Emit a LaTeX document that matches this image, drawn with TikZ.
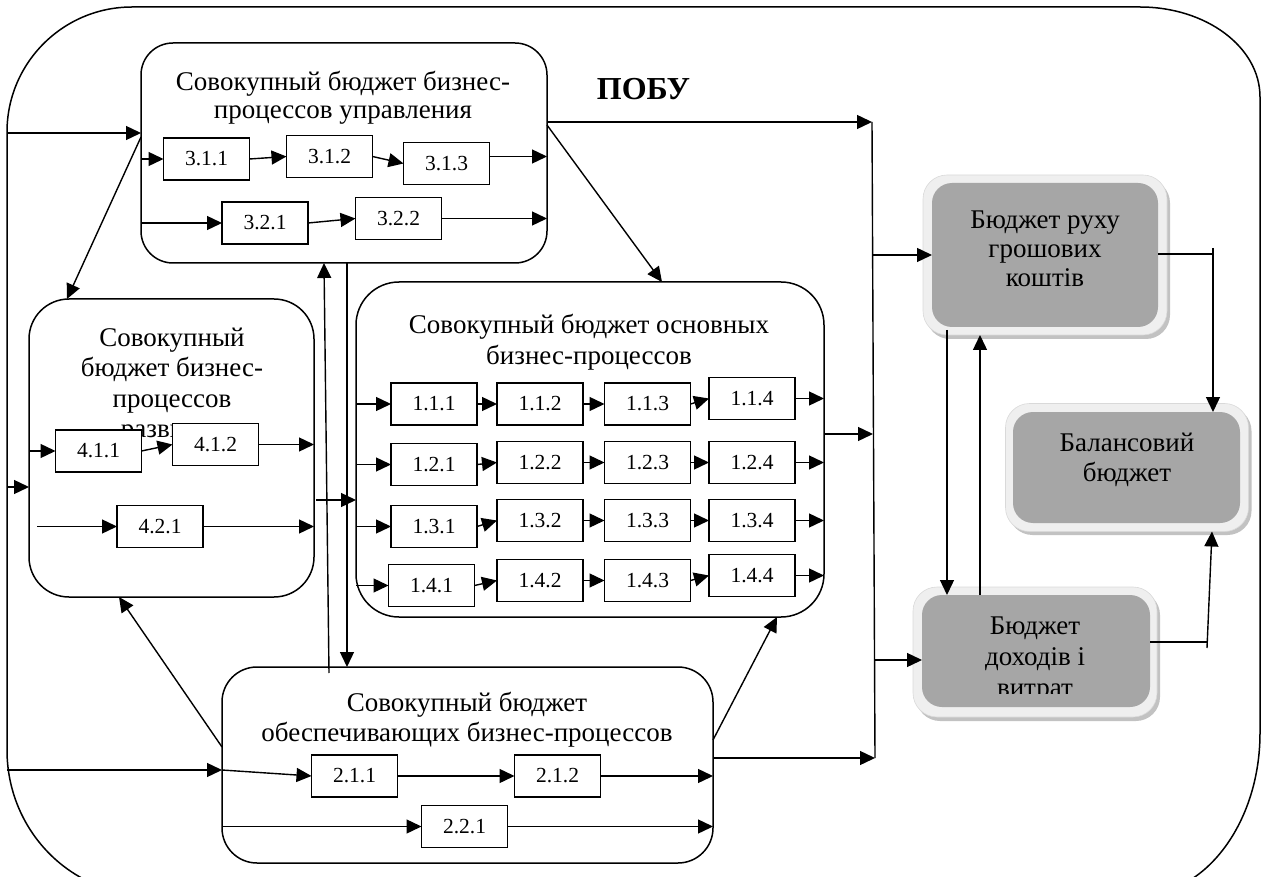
\documentclass[tikz,border=0pt]{standalone}
\usepackage{fontspec}
\setmainfont{Liberation Serif}
\usetikzlibrary{arrows.meta}
\definecolor{coregrey}{HTML}{A6A6A6}
\definecolor{rimgrey}{HTML}{EFEFEF}
\definecolor{shadegrey}{HTML}{C2C2C2}

\begin{document}
\begin{tikzpicture}[x=1pt,y=-1pt,
  every node/.style={inner sep=0pt,outer sep=0pt},
  panel/.style={draw,line width=1.5pt,fill=white,rounded corners=#1},
  panel/.default=35pt,
  item/.style={draw,line width=1.5pt,fill=white,minimum width=86pt,minimum height=42pt,
    font=\fontsize{21.5}{24}\selectfont},
  arr/.style={line width=1.4pt,-{Triangle[length=15pt,width=14pt]}},
  link/.style={line width=1.4pt},
  title/.style={font=\fontsize{27}{30}\selectfont,anchor=base},
  shade/.style={fill=shadegrey,rounded corners=24pt},
  rim/.style={fill=rimgrey,draw=gray!30,line width=0.6pt,rounded corners=24pt},
  core/.style={fill=coregrey,rounded corners=20pt}]

\useasboundingbox (0,0) rectangle (1267,877);
\clip (0,0) rectangle (1267,877);

% outer frame
\draw[line width=1.5pt] (7,132) .. controls (7,63) and (63,7) .. (132,7)
  -- (1140,7) .. controls (1206,7) and (1260,47) .. (1260,97)
  -- (1260,733) .. controls (1260,822) and (1206,895) .. (1140,895)
  -- (148,895) .. controls (70,895) and (7,830) .. (7,750) -- cycle;

% group panels
\node[panel=32pt,minimum width=406pt,minimum height=220pt] (M) at (344,153) {};
\node[panel=40pt,minimum width=285pt,minimum height=298pt] (D) at (171.5,448) {};
\node[panel=43pt,minimum width=468pt,minimum height=335pt] (B) at (590,449.5) {};
\node[panel=35pt,minimum width=491pt,minimum height=196pt] (S) at (467.5,765) {};

% panel titles
\node[title] (mt1) at (343,91) {Совокупный бюджет бизнес-};
\node[title] (mt2) at (343,119) {процессов управления};
\node[title] (dt1) at (172,347) {Совокупный};
\node[title] (dt2) at (172,377) {бюджет бизнес-};
\node[title] (dt3) at (172,407) {процессов};
\node[title] (dt4) at (172,437) {развития};
\node[title] (bt1) at (589,334) {Совокупный бюджет основных};
\node[title] (bt2) at (589,365) {бизнес-процессов};
\node[title] (st1) at (467,711) {Совокупный бюджет};
\node[title] (st2) at (467,741) {обеспечивающих бизнес-процессов};
\node[font=\fontsize{32}{36}\selectfont\bfseries,anchor=base] (pobu) at (643.5,100) {ПОБУ};

% management processes
\node[item] (m311) at (206.5,159) {3.1.1};
\node[item] (m312) at (329.5,156.5) {3.1.2};
\node[item] (m313) at (446.5,163.5) {3.1.3};
\node[item] (m321) at (265,223) {3.2.1};
\node[item] (m322) at (398.5,218.5) {3.2.2};

% development processes
\node[item] (d411) at (98.5,451) {4.1.1};
\node[item] (d412) at (215.5,444.5) {4.1.2};
\node[item] (d421) at (160,526.5) {4.2.1};

% core processes
\node[item] (b11) at (434,404) {1.1.1};
\node[item] (b12) at (540,404) {1.1.2};
\node[item] (b13) at (647.5,404) {1.1.3};
\node[item] (b14) at (752,398.5) {1.1.4};
\node[item] (b21) at (434,464.5) {1.2.1};
\node[item] (b22) at (540,462.5) {1.2.2};
\node[item] (b23) at (647.5,462.5) {1.2.3};
\node[item] (b24) at (752,462.5) {1.2.4};
\node[item] (b31) at (434,526.5) {1.3.1};
\node[item] (b32) at (540,520.5) {1.3.2};
\node[item] (b33) at (647.5,520.5) {1.3.3};
\node[item] (b34) at (752,520.5) {1.3.4};
\node[item] (b41) at (431.5,585.5) {1.4.1};
\node[item] (b42) at (540,580.5) {1.4.2};
\node[item] (b43) at (647.5,580.5) {1.4.3};
\node[item] (b44) at (752,575.5) {1.4.4};

% supporting processes
\node[item] (s211) at (354.5,776) {2.1.1};
\node[item] (s212) at (557.5,776) {2.1.2};
\node[item] (s221) at (464.5,826.5) {2.2.1};

% flows inside the management panel
\draw[arr] (M.west |- m311) -- (m311.west);
\draw[arr] (m311.east) -- (m312.west);
\draw[arr] (m312.east) -- (m313.west);
\draw[arr] (m313.east |- m312) -- (M.east |- m312);
\draw[arr] (M.west |- m321) -- (m321.west);
\draw[arr] (m321.east) -- (m322.west);
\draw[arr] (m322.east) -- (M.east |- m322);

% flows inside the development panel
\coordinate (d4in) at ([xshift=8pt]D.west);
\draw[arr] (D.west |- d411) -- (d411.west);
\draw[arr] (d411.east) -- (d412.west);
\draw[arr] (d412.east) -- (D.east |- d412);
\draw[arr] (d4in |- d421) -- (d421.west);
\draw[arr] (d421.east) -- (D.east |- d421);

% flows inside the core panel
\foreach \r in {1,2,3,4}{
  \draw[arr] (B.west |- b\r1) -- (b\r1.west);
  \draw[arr] (b\r1.east) -- (b\r2.west);
  \draw[arr] (b\r2.east) -- (b\r3.west);
  \draw[arr] (b\r3.east) -- (b\r4.west);
  \draw[arr] (b\r4.east) -- (B.east |- b\r4);
}

% flows inside the supporting panel
\coordinate (fC) at (7,770);
\draw[arr] (fC) -- (S.west |- fC);
\draw[arr] (S.west |- fC) -- (s211.west);
\draw[arr] (s211.east) -- (s212.west);
\draw[arr] (s212.east) -- (S.east |- s212);
\draw[arr] (S.west |- s221) -- (s221.west);
\draw[arr] (s221.east) -- (S.east |- s221);

% inputs from the frame
\coordinate (fA) at (7,133);
\coordinate (fB) at (7,487);
\draw[arr] (fA) -- (M.west |- fA);
\draw[arr] (fB) -- (D.west |- fB);

% links between panels
\draw[arr] ([yshift=16pt]M.west) -- ([xshift=38pt]D.north west);
\draw[arr] ([yshift=18pt]S.west) -- ([xshift=90pt]D.south west);
\draw[arr] ([yshift=28pt]M.east) -- ([xshift=306pt]B.north west);
\draw[arr] ([yshift=25pt]S.east) -- ([xshift=-47pt]B.south east);
\coordinate (upS) at ([xshift=107pt,yshift=-6pt]S.north west);
\draw[arr] (upS) -- ([xshift=183pt]M.south west);
\coordinate (dnM) at ([xshift=206pt]M.south west);
\draw[arr] (dnM) -- (dnM |- S.north);
\coordinate (db) at ([xshift=2pt,yshift=-52pt]D.east);
\draw[arr] (db) -- (B.west |- db);

% summary budgets
\node[shade,minimum width=244pt,minimum height=160pt] (cashsh) at (1048,259) {};
\node[rim,minimum width=244pt,minimum height=160pt] (cashrim) at (1045,255) {};
\node[core,minimum width=226pt,minimum height=144pt] (cash) at (1045,255) {};
\node[title] (ct1) at (1045,229) {Бюджет руху};
\node[title] (ct2) at (1045,258) {грошових};
\node[title] (ct3) at (1045,287) {коштів};

\node[shade,minimum width=243pt,minimum height=128pt] (balsh) at (1130,471) {};
\node[rim,minimum width=243pt,minimum height=128pt] (balrim) at (1127,467.5) {};
\node[core,minimum width=227pt,minimum height=111pt] (bal) at (1126.5,467.5) {};
\node[title] (lt1) at (1127,451) {Балансовий};
\node[title] (lt2) at (1127,481) {бюджет};

\node[shade,minimum width=244pt,minimum height=130pt] (incsh) at (1038,656) {};
\node[rim,minimum width=244pt,minimum height=130pt] (incrim) at (1035,652) {};
\node[core,minimum width=228pt,minimum height=112pt] (inc) at (1036,651) {};
\begin{scope}
  \clip (900,600) rectangle (1160,693);
  \node[title] (it1) at (1035,634) {Бюджет};
  \node[title] (it2) at (1035,665) {доходів і};
  \node[title] (it3) at (1035,696) {витрат};
\end{scope}

% collecting bus
\coordinate (busTop) at (872,122);
\coordinate (busBot) at (875,758);
\coordinate (busB) at (873,434);
\coordinate (busI) at (875,660);
\draw[link] (busTop) -- (busBot);
\draw[arr] (M.east |- busTop) -- (busTop);
\draw[arr] (B.east |- busB) -- (busB);
\draw[arr] (S.east |- busBot) -- (busBot);
\draw[arr] (busTop |- cash.west) -- (cash.west);
\draw[arr] (busI) -- (inc.west |- busI);

% links between the summary budgets
\coordinate (dnx) at (947,0);
\coordinate (upx) at (980,0);
\draw[arr] ([yshift=5pt]cashrim.south -| dnx) -- (inc.north -| dnx);
\draw[arr] (inc.north -| upx) -- (cashrim.south -| upx);
\coordinate (cbR) at (1213,254);
\coordinate (cbTop) at (1213,248);
\draw[link] (cash.east |- cbR) -- (cbR);
\draw[arr] (cbTop) -- (cbTop |- bal.north);
\coordinate (ibR) at (1207,642);
\coordinate (ibBot) at (1207,648);
\coordinate (ibTip) at (1212,0);
\draw[link] (inc.east |- ibR) -- (ibR);
\draw[arr] (ibBot) -- (ibTip |- balrim.south);
\end{tikzpicture}
\end{document}
